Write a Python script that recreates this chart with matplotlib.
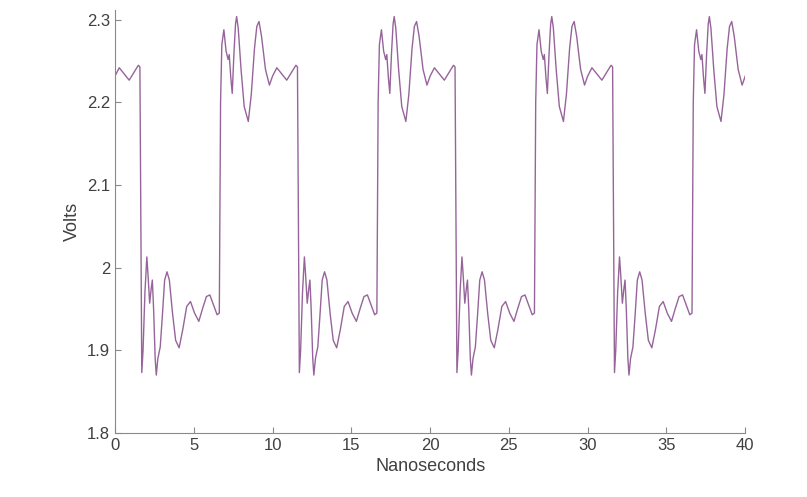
import numpy as np
import matplotlib.pyplot as plt

plt.rcParams['font.family'] = ['Liberation Sans', 'DejaVu Sans']

# one 10 ns cycle of the waveform (time in ns, volts)
cycle_t = [0.00, 0.27, 0.90, 1.48, 1.58,
           1.70, 1.78, 1.90, 2.02, 2.10, 2.20, 2.30, 2.37, 2.45, 2.55, 2.62,
           2.72, 2.87, 3.00, 3.15, 3.30, 3.45, 3.65, 3.85, 4.07, 4.30, 4.55,
           4.79, 5.05, 5.32, 5.55, 5.80, 6.02, 6.25, 6.48, 6.62,
           6.70, 6.78, 6.91, 7.05, 7.18, 7.25, 7.35, 7.44, 7.55, 7.65, 7.72,
           7.82, 8.00, 8.20, 8.46, 8.65, 8.85, 9.00, 9.14, 9.30, 9.55, 9.80]
cycle_v = [2.232, 2.242, 2.227, 2.245, 2.243,
           1.873, 1.900, 1.970, 2.013, 1.990, 1.957, 1.975, 1.985, 1.950, 1.890, 1.870,
           1.890, 1.904, 1.940, 1.985, 1.995, 1.985, 1.945, 1.912, 1.903, 1.925, 1.953,
           1.959, 1.945, 1.935, 1.950, 1.965, 1.967, 1.955, 1.943, 1.945,
           2.200, 2.270, 2.288, 2.262, 2.252, 2.258, 2.230, 2.211, 2.260, 2.295, 2.304,
           2.290, 2.240, 2.195, 2.177, 2.210, 2.265, 2.292, 2.298, 2.280, 2.240, 2.221]
period = 10.0
n_cycles = 4
end_t, end_v = 40.0, 2.232

t = np.concatenate([np.array(cycle_t) + period * k for k in range(n_cycles)] + [[end_t]])
v = np.concatenate([np.array(cycle_v) for k in range(n_cycles)] + [[end_v]])

fig = plt.figure(figsize=(8.07, 4.97), dpi=100)
ax = fig.add_axes([0.1425, 0.129, 0.781, 0.851])
ax.plot(t, v, color='#96649a', linewidth=1.0)

ax.set_xlim(0, 40)
ax.set_ylim(1.8, 2.312)
ax.set_xticks(np.arange(0, 41, 5))
ax.set_yticks([1.8, 1.9, 2.0, 2.1, 2.2, 2.3])
ax.set_yticklabels(['1.8', '1.9', '2', '2.1', '2.2', '2.3'])

for s in ['top', 'right']:
    ax.spines[s].set_visible(False)
for s in ['left', 'bottom']:
    ax.spines[s].set_color('#8a8a8a')
ax.tick_params(direction='in', length=4, color='#8a8a8a', labelcolor='#404040', labelsize=12)

ax.set_xlabel('Nanoseconds', fontsize=13, color='#404040')
ax.set_ylabel('Volts', fontsize=13, color='#404040')

fig.savefig('out.png', dpi=100)
